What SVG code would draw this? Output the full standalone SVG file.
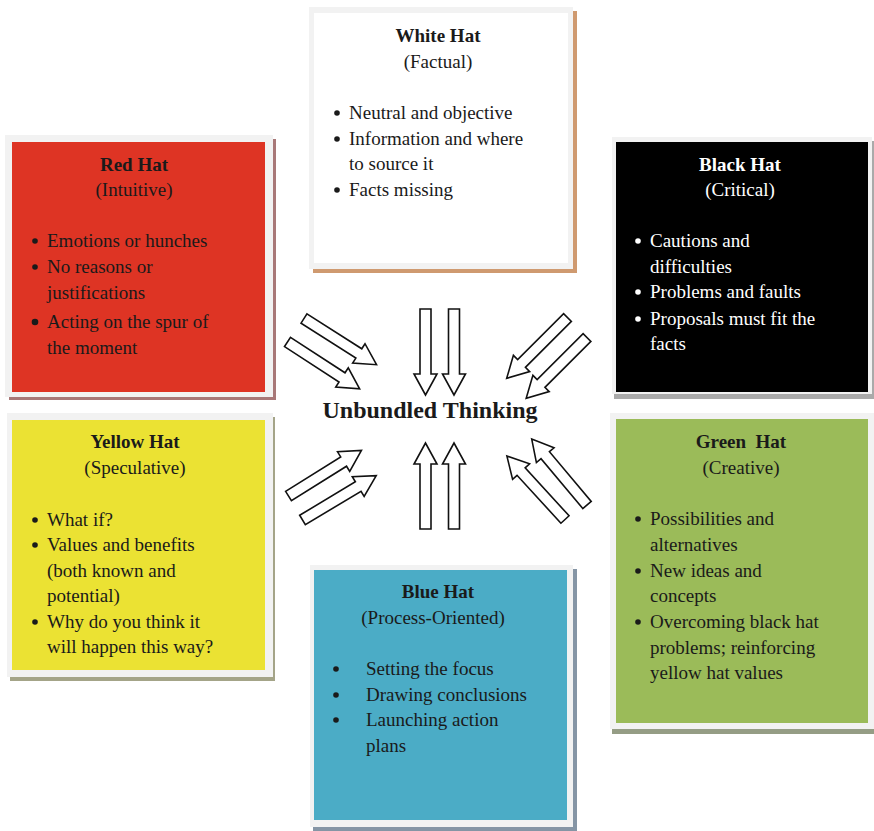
<svg xmlns="http://www.w3.org/2000/svg" xmlns:xlink="http://www.w3.org/1999/xlink" width="874" height="831" viewBox="0 0 874 831">
<style>
text{font-family:"Liberation Serif","Times New Roman",serif;font-size:19px;fill:#1a1a1a}
.t{font-weight:bold;text-anchor:middle}
.s{text-anchor:middle}
.w text,.w circle{fill:#ffffff}
.frame{fill:#f2f2f2}
circle{fill:#1a1a1a}
.arr{fill:#ffffff;stroke:#111;stroke-width:1.6;stroke-linejoin:miter}
.center{font-weight:bold;font-size:24px;text-anchor:middle}
</style>
<defs>
<path id="arr" d="M0,-5.5 L65,-5.5 L65,-11.5 L86,0 L65,11.5 L65,5.5 L0,5.5 Z"/>
</defs>
<rect width="874" height="831" fill="#ffffff"/>

<g id="white-hat">
<rect x="313" y="11" width="264" height="262" fill="#cf9a70"/>
<rect class="frame" x="309" y="7" width="264" height="262"/>
<rect x="314" y="13" width="254" height="250" fill="#ffffff"/>
<text class="t" x="438" y="42">White Hat</text>
<text class="s" x="438" y="68">(Factual)</text>
<circle cx="337" cy="113" r="2.8"/><text x="349" y="119">Neutral and objective</text>
<circle cx="337" cy="139" r="2.8"/><text x="349" y="145">Information and where</text>
<text x="349" y="170">to source it</text>
<circle cx="337" cy="190" r="2.8"/><text x="349" y="196">Facts missing</text>
</g>

<g id="red-hat">
<rect x="9" y="139" width="267" height="261" fill="#a87878"/>
<rect class="frame" x="5" y="135" width="268" height="262"/>
<rect x="12" y="142" width="253" height="250" fill="#de3424"/>
<text class="t" x="134" y="171">Red Hat</text>
<text class="s" x="134" y="196">(Intuitive)</text>
<circle cx="35" cy="241" r="2.8"/><text x="47" y="247">Emotions or hunches</text>
<circle cx="35" cy="267" r="2.8"/><text x="47" y="273">No reasons or</text>
<text x="47" y="299">justifications</text>
<circle cx="35" cy="322" r="3.3"/><text x="47" y="328">Acting on the spur of</text>
<text x="47" y="354">the moment</text>
</g>

<g id="black-hat" class="w">
<rect x="614" y="141" width="260" height="258" fill="#aaaaaa"/>
<rect class="frame" x="612" y="137" width="260" height="257" style="fill:#f2f2f2"/>
<rect x="616" y="142" width="252" height="250" style="fill:#000000"/>
<text class="t" x="740" y="171">Black Hat</text>
<text class="s" x="740" y="196">(Critical)</text>
<circle cx="638" cy="241" r="2.8"/><text x="650" y="247">Cautions and</text>
<text x="650" y="273">difficulties</text>
<circle cx="638" cy="292" r="2.8"/><text x="650" y="298">Problems and faults</text>
<circle cx="638" cy="319" r="2.8"/><text x="650" y="325">Proposals must fit the</text>
<text x="650" y="350">facts</text>
</g>

<g id="yellow-hat">
<rect x="10" y="417" width="265" height="264" fill="#a4a488"/>
<rect class="frame" x="7" y="413" width="266" height="264"/>
<rect x="12" y="420" width="253" height="250" fill="#ebe233"/>
<text class="t" x="135" y="448">Yellow Hat</text>
<text class="s" x="135" y="474">(Speculative)</text>
<circle cx="35" cy="520" r="2.8"/><text x="47" y="526">What if?</text>
<circle cx="35" cy="545" r="2.8"/><text x="47" y="551">Values and benefits</text>
<text x="47" y="577">(both known and</text>
<text x="47" y="602">potential)</text>
<circle cx="35" cy="622" r="2.8"/><text x="47" y="628">Why do you think it</text>
<text x="47" y="653">will happen this way?</text>
</g>

<g id="green-hat">
<rect x="612" y="417" width="262" height="317" fill="#959d85"/>
<rect class="frame" x="610" y="413" width="264" height="316"/>
<rect x="616" y="419" width="252" height="304" fill="#9bbb59"/>
<text class="t" x="741" y="448" xml:space="preserve">Green  Hat</text>
<text class="s" x="741" y="474">(Creative)</text>
<circle cx="638" cy="519" r="2.8"/><text x="650" y="525">Possibilities and</text>
<text x="650" y="551">alternatives</text>
<circle cx="638" cy="571" r="2.8"/><text x="650" y="577">New ideas and</text>
<text x="650" y="602">concepts</text>
<circle cx="638" cy="622" r="2.8"/><text x="650" y="628">Overcoming black hat</text>
<text x="650" y="654">problems; reinforcing</text>
<text x="650" y="679">yellow hat values</text>
</g>

<g id="blue-hat">
<rect x="313" y="569" width="264" height="262" fill="#8595a5"/>
<rect class="frame" x="310" y="565" width="263" height="262"/>
<rect x="314" y="570" width="253" height="250" fill="#4bacc6"/>
<text class="t" x="438" y="598">Blue Hat</text>
<text class="s" x="433" y="624">(Process-Oriented)</text>
<circle cx="336" cy="669" r="2.8"/><text x="366" y="675">Setting the focus</text>
<circle cx="336" cy="695" r="2.8"/><text x="366" y="701">Drawing conclusions</text>
<circle cx="336" cy="720" r="2.8"/><text x="366" y="726">Launching action</text>
<text x="366" y="752">plans</text>
</g>

<g id="center">
<text class="center" x="430" y="418">Unbundled Thinking</text>
</g>

<g id="connectors">
<use xlink:href="#arr" class="arr" transform="translate(425.5,309) rotate(90)"/>
<use xlink:href="#arr" class="arr" transform="translate(454,309) rotate(90)"/>
<use xlink:href="#arr" class="arr" transform="translate(425.5,529) rotate(-90)"/>
<use xlink:href="#arr" class="arr" transform="translate(454,529) rotate(-90)"/>
<use xlink:href="#arr" class="arr" transform="translate(304,318.5) rotate(32.5)"/>
<use xlink:href="#arr" class="arr" transform="translate(287.5,342) rotate(33)"/>
<use xlink:href="#arr" class="arr" transform="translate(567.5,317.5) rotate(135)"/>
<use xlink:href="#arr" class="arr" transform="translate(587,337.5) rotate(135)"/>
<use xlink:href="#arr" class="arr" transform="translate(288.5,496) rotate(-32)"/>
<use xlink:href="#arr" class="arr" transform="translate(302.5,520) rotate(-31)"/>
<use xlink:href="#arr" class="arr" transform="translate(565,519.5) rotate(-132.5)"/>
<use xlink:href="#arr" class="arr" transform="translate(587,505) rotate(-130)"/>
</g>
</svg>
